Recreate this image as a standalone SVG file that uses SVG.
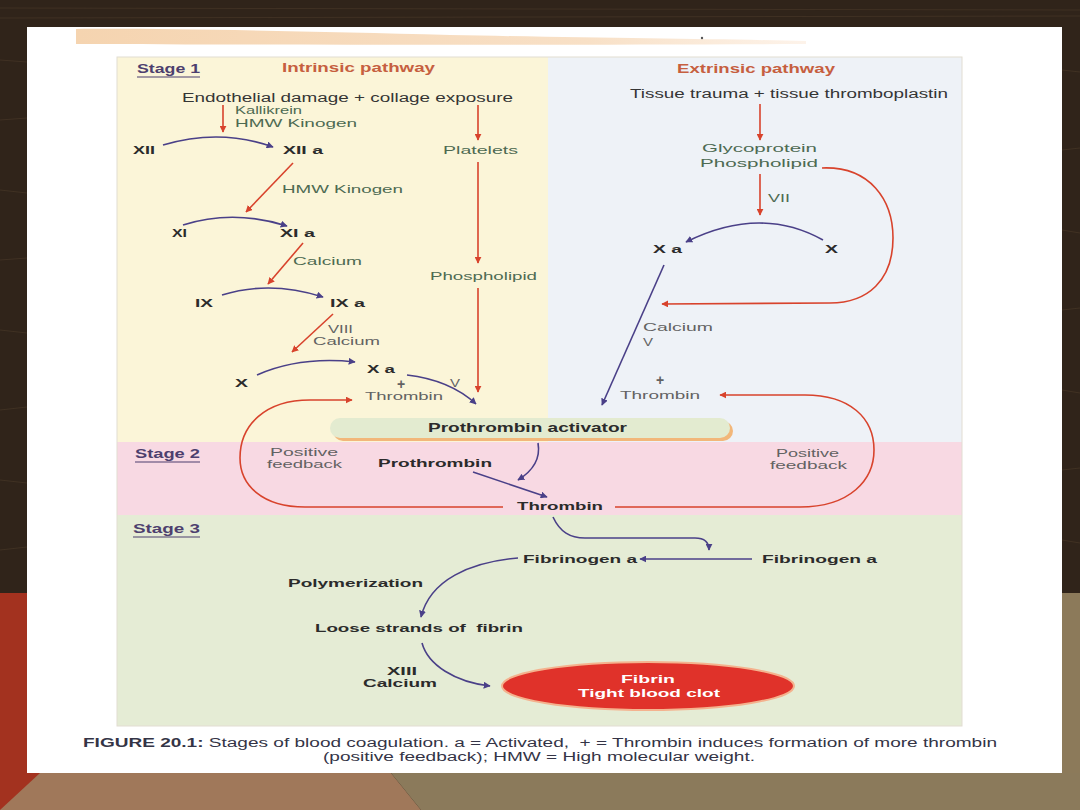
<svg xmlns="http://www.w3.org/2000/svg" width="1080" height="810" viewBox="0 0 1080 810">
<defs>
<style>
text{font-family:"Liberation Sans",Arial,sans-serif;}
.b{font-size:11.5px;font-weight:bold;fill:#2b2b2b;}
.g{font-size:11.5px;fill:#4d6a52;}
.gr{font-size:11.5px;fill:#626262;}
.pl{font-size:14px;font-weight:bold;fill:#626262;}
.d{font-size:12.5px;fill:#353535;}
.st{font-size:12px;font-weight:bold;fill:#4d3f6e;}
.pw{font-size:12.5px;font-weight:bold;fill:#c65f40;}
.cap{font-size:12.5px;fill:#343446;}
.red{fill:none;stroke:#d8432c;stroke-width:1.6;}
.pur{fill:none;stroke:#4a4088;stroke-width:1.6;}
.ul{stroke:#4d3f6e;stroke-width:1.2;}
.grain{stroke:#4b3a2a;stroke-width:1;opacity:0.6;}
</style>
<marker id="ar" viewBox="0 0 10 10" refX="9" refY="5" markerWidth="7" markerHeight="7" markerUnits="userSpaceOnUse" orient="auto">
<path d="M0,0 L10,5 L0,10 z" fill="#d8432c"/>
</marker>
<marker id="ap" viewBox="0 0 10 10" refX="9" refY="5" markerWidth="7" markerHeight="7" markerUnits="userSpaceOnUse" orient="auto">
<path d="M0,0 L10,5 L0,10 z" fill="#4a4088"/>
</marker>
<linearGradient id="peach" x1="0" y1="0" x2="1" y2="0">
<stop offset="0" stop-color="#f5d4b0"/>
<stop offset="0.7" stop-color="#f8e0c6"/>
<stop offset="1" stop-color="#fdf3ea"/>
</linearGradient>
</defs>

<g id="background">
<rect x="0" y="0" width="1080" height="810" fill="#30241a"/>
<g class="grain">
<line x1="0" y1="8" x2="1080" y2="10"/>
<line x1="0" y1="18" x2="1080" y2="16"/>
<line x1="0" y1="60" x2="27" y2="62"/>
<line x1="0" y1="120" x2="27" y2="118"/>
<line x1="0" y1="190" x2="27" y2="193"/>
<line x1="0" y1="260" x2="27" y2="258"/>
<line x1="0" y1="330" x2="27" y2="333"/>
<line x1="0" y1="410" x2="27" y2="407"/>
<line x1="0" y1="480" x2="27" y2="483"/>
<line x1="0" y1="550" x2="27" y2="547"/>
<line x1="1062" y1="70" x2="1080" y2="72"/>
<line x1="1062" y1="150" x2="1080" y2="148"/>
<line x1="1062" y1="230" x2="1080" y2="233"/>
<line x1="1062" y1="310" x2="1080" y2="308"/>
<line x1="1062" y1="390" x2="1080" y2="393"/>
<line x1="1062" y1="470" x2="1080" y2="468"/>
<line x1="1062" y1="540" x2="1080" y2="543"/>
</g>
<rect x="1062" y="593" width="18" height="217" fill="#8c7a5a"/>
<polygon points="0,773 391,773 421,810 0,810" fill="#a0785a"/>
<polygon points="391,773 1080,773 1080,810 421,810" fill="#8b7a5b"/>
<rect x="0" y="593" width="27" height="180" fill="#a3321f"/>
<polygon points="0,773 40,773 0,810" fill="#a3321f"/>
<rect x="27" y="27" width="1035" height="746" fill="#ffffff"/>
<path d="M76 29 C150 28 300 31 450 35 C600 38 720 39 806 41 L806 44 C600 45 300 45 76 44 Z" fill="url(#peach)"/>
<circle cx="702" cy="38" r="1.2" fill="#555"/>
</g>

<g id="panels">
<rect x="117" y="57" width="431" height="385" fill="#fbf5d8"/>
<rect x="548" y="57" width="414" height="385" fill="#eef2f7"/>
<rect x="117" y="442" width="845" height="73" fill="#f8d9e3"/>
<rect x="117" y="515" width="845" height="211" fill="#e5ecd5"/>
<rect x="117" y="57" width="845" height="669" fill="none" stroke="#e2ddd2" stroke-width="1"/>
</g>

<g id="stage-labels">
<text class="st" x="137" y="73" textLength="63" lengthAdjust="spacingAndGlyphs">Stage 1</text>
<line class="ul" x1="137" y1="77" x2="200" y2="77"/>
<text class="st" x="135" y="458" textLength="65" lengthAdjust="spacingAndGlyphs">Stage 2</text>
<line class="ul" x1="135" y1="462" x2="200" y2="462"/>
<text class="st" x="133" y="533" textLength="67" lengthAdjust="spacingAndGlyphs">Stage 3</text>
<line class="ul" x1="133" y1="537" x2="200" y2="537"/>
<text class="pw" x="282" y="72" textLength="153" lengthAdjust="spacingAndGlyphs">Intrinsic pathway</text>
<text class="pw" x="677" y="73" textLength="158" lengthAdjust="spacingAndGlyphs">Extrinsic pathway</text>
</g>

<g id="connectors">
<path class="red" d="M223 105 L223 132" marker-end="url(#ar)"/>
<path class="red" d="M478 105 L478 140" marker-end="url(#ar)"/>
<path class="red" d="M478 162 L478 263" marker-end="url(#ar)"/>
<path class="red" d="M478 288 L478 392" marker-end="url(#ar)"/>
<path class="red" d="M293 163 L246 212" marker-end="url(#ar)"/>
<path class="red" d="M303 243 L268 284" marker-end="url(#ar)"/>
<path class="red" d="M333 314 L292 352" marker-end="url(#ar)"/>
<path class="red" d="M760 104 L760 140" marker-end="url(#ar)"/>
<path class="red" d="M760 174 L760 215" marker-end="url(#ar)"/>
<path class="red" d="M822 168 C870 166 893 200 893 238 C893 280 868 303 830 303 L662 304" marker-end="url(#ar)"/>
<path class="red" d="M503 507 L305 507 C262 507 240 485 240 458 C240 425 265 400 310 400 L352 400" marker-end="url(#ar)"/>
<path class="red" d="M615 507 L800 507 C850 507 874 480 874 450 C874 418 850 395 805 395 L720 395" marker-end="url(#ar)"/>
<path class="pur" d="M163 145 Q220 128 273 147" marker-end="url(#ap)"/>
<path class="pur" d="M183 225 Q233 209 287 226" marker-end="url(#ap)"/>
<path class="pur" d="M222 295 Q270 280 323 297" marker-end="url(#ap)"/>
<path class="pur" d="M257 375 Q300 356 355 362" marker-end="url(#ap)"/>
<path class="pur" d="M407 375 Q450 380 476 404" marker-end="url(#ap)"/>
<path class="pur" d="M823 240 Q760 205 686 242" marker-end="url(#ap)"/>
<path class="pur" d="M664 265 L602 405" marker-end="url(#ap)"/>
<path class="pur" d="M538 443 C541 460 531 472 518 480" marker-end="url(#ap)"/>
<path class="pur" d="M473 472 L547 497" marker-end="url(#ap)"/>
<path class="pur" d="M553 517 C560 532 570 538 585 538 L695 538 C705 538 709 543 709 550" marker-end="url(#ap)"/>
<path class="pur" d="M752 559 L640 559" marker-end="url(#ap)"/>
<path class="pur" d="M518 558 C470 562 430 580 421 617" marker-end="url(#ap)"/>
<path class="pur" d="M422 643 C428 665 455 682 490 686" marker-end="url(#ap)"/>
</g>

<g id="node-endothelial"><text class="d" x="182" y="102" textLength="331" lengthAdjust="spacingAndGlyphs">Endothelial damage + collage exposure</text></g>
<g id="label-kallikrein">
<text class="g" x="235" y="114" textLength="67" lengthAdjust="spacingAndGlyphs">Kallikrein</text>
<text class="g" x="235" y="127" textLength="122" lengthAdjust="spacingAndGlyphs">HMW Kinogen</text>
</g>
<g id="node-xii"><text class="b" x="133" y="154" textLength="22" lengthAdjust="spacingAndGlyphs">XII</text></g>
<g id="node-xiia"><text class="b" x="283" y="154" textLength="40" lengthAdjust="spacingAndGlyphs">XII a</text></g>
<g id="node-platelets"><text class="g" x="443" y="154" textLength="75" lengthAdjust="spacingAndGlyphs">Platelets</text></g>
<g id="label-hmw"><text class="g" x="282" y="193" textLength="121" lengthAdjust="spacingAndGlyphs">HMW Kinogen</text></g>
<g id="node-xi"><text class="b" x="172" y="237" textLength="15" lengthAdjust="spacingAndGlyphs">XI</text></g>
<g id="node-xia"><text class="b" x="280" y="237" textLength="35" lengthAdjust="spacingAndGlyphs">XI a</text></g>
<g id="label-calcium1"><text class="g" x="293" y="265" textLength="69" lengthAdjust="spacingAndGlyphs">Calcium</text></g>
<g id="node-phospholipid1"><text class="g" x="430" y="280" textLength="107" lengthAdjust="spacingAndGlyphs">Phospholipid</text></g>
<g id="node-ix"><text class="b" x="195" y="307" textLength="18" lengthAdjust="spacingAndGlyphs">IX</text></g>
<g id="node-ixa"><text class="b" x="330" y="307" textLength="35" lengthAdjust="spacingAndGlyphs">IX a</text></g>
<g id="label-viii">
<text class="gr" x="328" y="333" textLength="25" lengthAdjust="spacingAndGlyphs">VIII</text>
<text class="gr" x="313" y="345" textLength="67" lengthAdjust="spacingAndGlyphs">Calcium</text>
</g>
<g id="node-xa1"><text class="b" x="367" y="373" textLength="28" lengthAdjust="spacingAndGlyphs">X a</text></g>
<g id="node-x1"><text class="b" x="235" y="387" textLength="13" lengthAdjust="spacingAndGlyphs">X</text></g>
<g id="label-thrombin1">
<text class="pl" x="401" y="389" text-anchor="middle">+</text>
<text class="gr" x="365" y="400" textLength="78" lengthAdjust="spacingAndGlyphs">Thrombin</text>
</g>
<g id="label-v1"><text class="gr" x="450" y="387" textLength="10" lengthAdjust="spacingAndGlyphs">V</text></g>

<g id="node-tissue"><text class="d" x="630" y="98" textLength="318" lengthAdjust="spacingAndGlyphs">Tissue trauma + tissue thromboplastin</text></g>
<g id="node-glyco">
<text class="g" x="702" y="152" textLength="115" lengthAdjust="spacingAndGlyphs">Glycoprotein</text>
<text class="g" x="700" y="167" textLength="118" lengthAdjust="spacingAndGlyphs">Phospholipid</text>
</g>
<g id="label-vii"><text class="g" x="768" y="202" textLength="22" lengthAdjust="spacingAndGlyphs">VII</text></g>
<g id="node-xa2"><text class="b" x="653" y="253" textLength="29" lengthAdjust="spacingAndGlyphs">X a</text></g>
<g id="node-x2"><text class="b" x="825" y="253" textLength="13" lengthAdjust="spacingAndGlyphs">X</text></g>
<g id="label-calcium-v">
<text class="gr" x="643" y="331" textLength="70" lengthAdjust="spacingAndGlyphs">Calcium</text>
<text class="gr" x="643" y="346" textLength="10" lengthAdjust="spacingAndGlyphs">V</text>
</g>
<g id="label-thrombin2">
<text class="pl" x="660" y="385" text-anchor="middle">+</text>
<text class="gr" x="620" y="399" textLength="80" lengthAdjust="spacingAndGlyphs">Thrombin</text>
</g>

<g id="node-prothrombin-activator">
<rect x="333" y="421" width="400" height="20" rx="10" fill="#f2b77a"/>
<rect x="330" y="418" width="400" height="20" rx="10" fill="#e3ebd0"/>
<text class="b" style="font-size:12.5px" x="428" y="432" textLength="199" lengthAdjust="spacingAndGlyphs">Prothrombin activator</text>
</g>
<g id="label-feedback-left">
<text class="gr" x="270" y="456" textLength="68" lengthAdjust="spacingAndGlyphs">Positive</text>
<text class="gr" x="267" y="468" textLength="75" lengthAdjust="spacingAndGlyphs">feedback</text>
</g>
<g id="label-feedback-right">
<text class="gr" x="776" y="457" textLength="63" lengthAdjust="spacingAndGlyphs">Positive</text>
<text class="gr" x="770" y="469" textLength="77" lengthAdjust="spacingAndGlyphs">feedback</text>
</g>
<g id="node-prothrombin"><text class="b" x="378" y="467" textLength="114" lengthAdjust="spacingAndGlyphs">Prothrombin</text></g>
<g id="node-thrombin"><text class="b" x="517" y="510" textLength="86" lengthAdjust="spacingAndGlyphs">Thrombin</text></g>

<g id="node-fibrinogen-left"><text class="b" x="523" y="563" textLength="114" lengthAdjust="spacingAndGlyphs">Fibrinogen a</text></g>
<g id="node-fibrinogen-right"><text class="b" x="762" y="563" textLength="115" lengthAdjust="spacingAndGlyphs">Fibrinogen a</text></g>
<g id="label-polymerization"><text class="b" x="288" y="587" textLength="135" lengthAdjust="spacingAndGlyphs">Polymerization</text></g>
<g id="node-loose"><text class="b" x="315" y="632" textLength="208" lengthAdjust="spacingAndGlyphs" xml:space="preserve">Loose strands of  fibrin</text></g>
<g id="label-xiii">
<text class="b" x="387" y="675" textLength="30" lengthAdjust="spacingAndGlyphs">XIII</text>
<text class="b" x="363" y="687" textLength="74" lengthAdjust="spacingAndGlyphs">Calcium</text>
</g>
<g id="node-fibrin">
<ellipse cx="648" cy="686" rx="146" ry="24" fill="#e0322a" stroke="#f4b28e" stroke-width="2"/>
<text class="b" style="fill:#ffffff" x="621" y="683" textLength="54" lengthAdjust="spacingAndGlyphs">Fibrin</text>
<text class="b" style="fill:#ffffff" x="578" y="697" textLength="142" lengthAdjust="spacingAndGlyphs">Tight blood clot</text>
</g>

<g id="caption">
<text class="cap" x="83" y="747" textLength="914" lengthAdjust="spacingAndGlyphs" xml:space="preserve"><tspan font-weight="bold">FIGURE 20.1:</tspan> Stages of blood coagulation. a = Activated,  + = Thrombin induces formation of more thrombin</text>
<text class="cap" x="323" y="761" textLength="432" lengthAdjust="spacingAndGlyphs">(positive feedback); HMW = High molecular weight.</text>
</g>
</svg>
